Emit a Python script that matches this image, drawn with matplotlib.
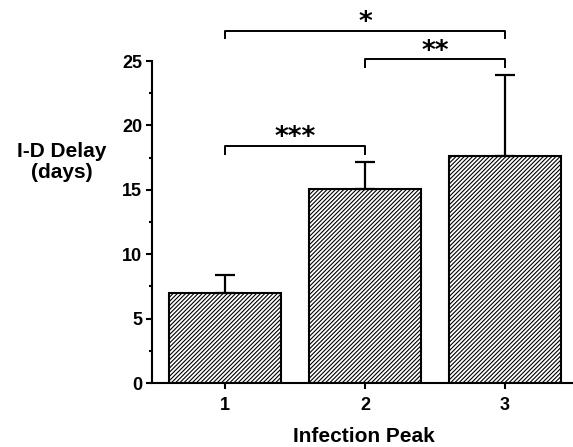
import matplotlib
matplotlib.use("Agg")
import matplotlib.pyplot as plt
import numpy as np

plt.rcParams['font.family'] = ['Liberation Sans', 'DejaVu Sans']
plt.rcParams['hatch.linewidth'] = 0.8

categories = ['1', '2', '3']
means = [7.0, 15.05, 17.65]
err_upper = [1.35, 2.1, 6.25]
yticks = [0, 5, 10, 15, 20, 25]

# significance brackets: (left index, right index, height, label)
brackets = [(0, 1, 18.42, '***'), (1, 2, 25.16, '**'), (0, 2, 27.35, '*')]
leg = 0.68

fig = plt.figure(figsize=(5.73, 4.47), dpi=100)
ax = fig.add_axes([152/573, 64/447, 421/573, 322/447])

x = np.arange(1, len(categories) + 1)
ax.bar(x, means, width=0.8, color='white', edgecolor='black', linewidth=1.5,
       hatch='////////', zorder=2)
ax.errorbar(x, means, yerr=[np.zeros(len(means)), err_upper], fmt='none',
            ecolor='black', elinewidth=1.6, capsize=7, capthick=1.6, zorder=3)

ax.set_xlim(0.479, 3.486)
ax.set_ylim(0, 25)
ax.set_xticks(x)
ax.set_xticklabels(categories, fontsize=13, fontweight='bold')
ax.set_yticks(yticks)
ax.set_yticklabels([str(t) for t in yticks], fontsize=13, fontweight='bold')
ax.set_yticks(np.arange(2.5, 25, 5), minor=True)
ax.tick_params(axis='both', which='major', length=4, width=1.5, direction='out', pad=3)
ax.tick_params(axis='y', which='minor', length=2, width=1.5)
ax.tick_params(axis='x', pad=6)
for s in ['top', 'right']:
    ax.spines[s].set_visible(False)
for s in ['left', 'bottom']:
    ax.spines[s].set_linewidth(1.5)

for i, j, h, lab in brackets:
    xi, xj = x[i], x[j]
    ax.plot([xi, xi, xj, xj], [h - leg, h, h, h - leg], color='black',
            linewidth=1.4, clip_on=False, solid_capstyle='butt', zorder=4)
    ax.text((xi + xj) / 2, h + 0.02, lab, ha='center', va='baseline',
            fontsize=19, fontweight='bold', family='DejaVu Sans', clip_on=False)

fig.text(62/573, 1 - 162/447, 'I-D Delay\n(days)', ha='center', va='center',
         fontsize=15, fontweight='bold', linespacing=1.1)
fig.text(364/573, 1 - 436/447, 'Infection Peak', ha='center', va='center',
         fontsize=15, fontweight='bold')

fig.savefig('out.png', dpi=100)
